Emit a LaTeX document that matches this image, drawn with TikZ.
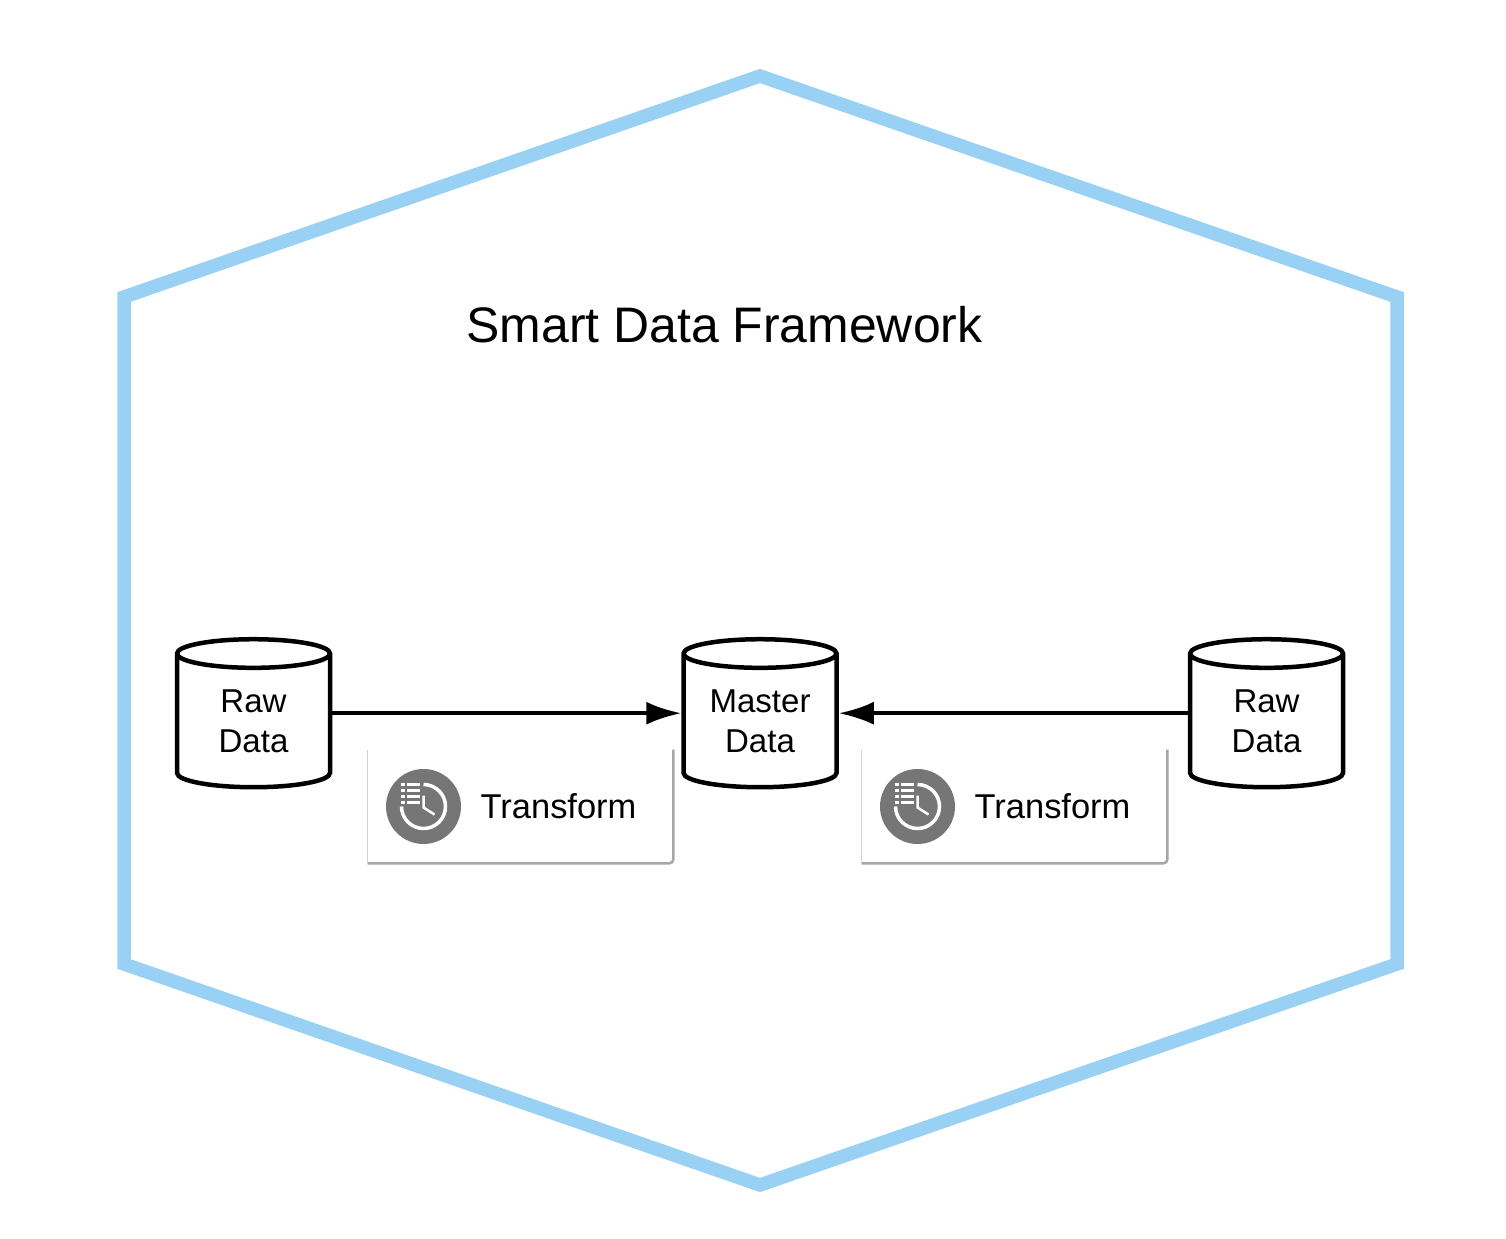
\documentclass[tikz,border=0pt]{standalone}
\usepackage{xcolor}
\usepackage{fontspec}
\setmainfont{Liberation Sans}
\usetikzlibrary{shapes.geometric, arrows.meta, positioning}
\definecolor{hexblue}{HTML}{99D1F5}
\definecolor{icongray}{HTML}{767676}
\definecolor{edgegray}{HTML}{A6A6A6}
\definecolor{edgelight}{HTML}{D0D0D0}

\begin{document}
\begin{tikzpicture}[
    node distance=6.98cm,
    storage/.style={cylinder, shape border rotate=90, shape aspect=0.26, draw=black, line width=0.09cm, fill=white, text width=2.2cm, minimum width=3.06cm, minimum height=2.96cm, inner sep=0pt, align=center, font=\fontsize{18.8pt}{22.8pt}\selectfont},
    framework/.style={draw=hexblue, line width=0.27cm, miter limit=10},
    title/.style={font=\fontsize{28.4pt}{32pt}\selectfont, inner sep=0pt},
    card/.style={rectangle, fill=white, minimum width=6.1cm, minimum height=2.26cm, inner sep=0pt},
    cardedge/.style={draw=edgegray, line width=0.05cm, rounded corners=0.08cm},
    cardside/.style={draw=edgelight, line width=0.03cm},
    clockicon/.style={circle, fill=icongray, minimum size=1.5cm, inner sep=0pt},
    cardtext/.style={font=\fontsize{19.6pt}{22.8pt}\selectfont, inner sep=0pt},
    arrow/.style={-{Latex[length=0.7cm,width=0.46cm]}, line width=0.08cm}
]
\useasboundingbox (0,0) rectangle (30.12,24.76);

% frame
\draw[framework] (15.2,23.24) -- (27.94,18.82) -- (27.94,5.48) -- (15.2,1.06) -- (2.48,5.48) -- (2.48,18.82) -- cycle;
\node[title] (frametitle) at (14.49,18.26) {Smart Data Framework};

% stores
\node[storage] (rawleft) at (5.07,10.33) {Raw\\Data};
\node[storage, right=of rawleft] (master) {Master\\Data};
\node[storage, right=of master] (rawright) {Raw\\Data};

% cards
\node[card] (cardleft) at (10.41,8.63) {};
\node[card] (cardright) at (20.29,8.63) {};
\foreach \c/\i/\t in {cardleft/iconleft/textleft, cardright/iconright/textright} {
    \draw[cardside] (\c.north west) -- (\c.south west);
    \draw[cardedge] (\c.north east) -- (\c.south east) -- (\c.south west);
    \node[clockicon, right=0.36cm of \c.west] (\i) {};
    \node[cardtext, right=0.38cm of \i] (\t) {Transform};
    \begin{scope}[shift={(\i.center)}, x=0.02cm, y=-0.02cm, white]
        \draw[line width=0.07cm] (0,-22) arc[start angle=90, end angle=-180, radius=0.44cm];
        \draw[line width=0.05cm] (0,-11) -- (0,1) -- (11,8);
        \foreach \y in {-22,-16,-10,-4} {
            \draw[line width=0.06cm] (-23,\y) -- (-19,\y);
            \draw[line width=0.06cm] (-17,\y) -- (-4,\y);
        }
    \end{scope}
}

% flows
\draw[arrow] (rawleft.shape center -| rawleft.east) -- (master.shape center -| master.west);
\draw[arrow] (rawright.shape center -| rawright.west) -- (master.shape center -| master.east);

\end{tikzpicture}
\end{document}
